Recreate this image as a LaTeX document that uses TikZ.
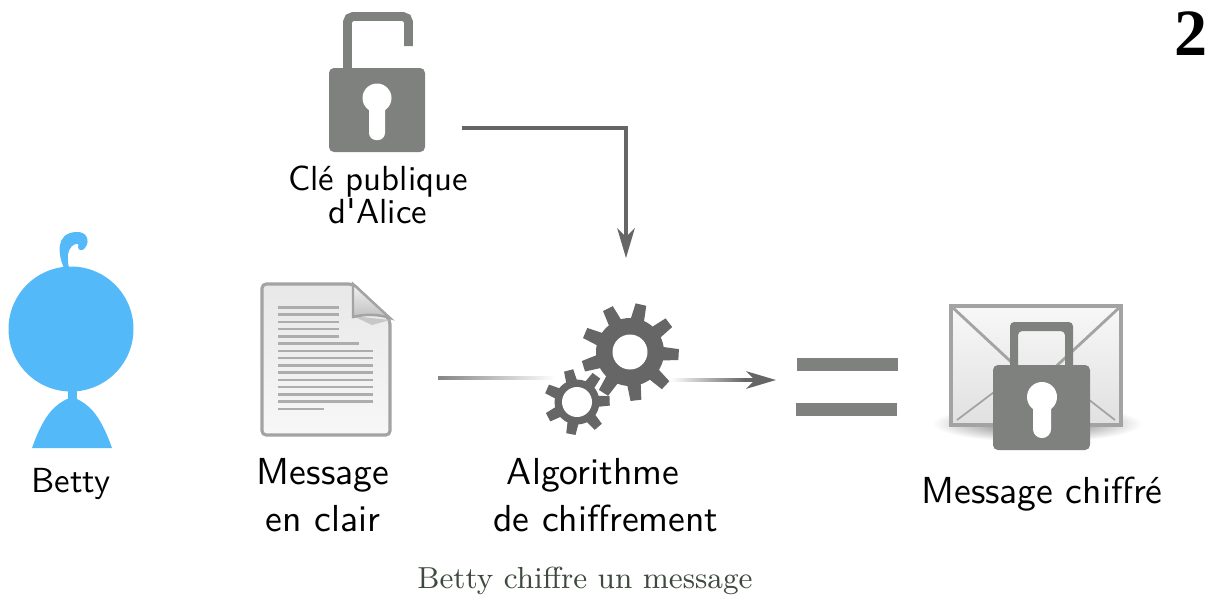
\documentclass[tikz,border=0pt]{standalone}
\usepackage{fontspec}
\usetikzlibrary{arrows.meta}
\newfontfamily\numfont{Liberation Serif}
\definecolor{lockgray}{HTML}{7F817E}
\definecolor{geargray}{HTML}{666666}
\definecolor{bettyblue}{HTML}{54B9F9}
\definecolor{paperedge}{HTML}{A3A3A3}
\definecolor{captiongreen}{HTML}{3F4A3F}

\newcommand{\drawgear}[7]{%
  \fill[geargray] (#1,#2) circle[radius=#5];
  \pgfmathsetmacro{\gearstep}{360/#3}
  \foreach \i in {1,...,#3} {
    \pgfmathsetmacro{\gearang}{#4+\i*\gearstep}
    \fill[geargray]
      ({#1+(#5-2)*cos(\gearang-0.31*\gearstep)},{#2-(#5-2)*sin(\gearang-0.31*\gearstep)}) --
      ({#1+#6*cos(\gearang-0.16*\gearstep)},{#2-#6*sin(\gearang-0.16*\gearstep)}) --
      ({#1+#6*cos(\gearang+0.16*\gearstep)},{#2-#6*sin(\gearang+0.16*\gearstep)}) --
      ({#1+(#5-2)*cos(\gearang+0.31*\gearstep)},{#2-(#5-2)*sin(\gearang+0.31*\gearstep)}) -- cycle;
  }
  \fill[white] (#1,#2) circle[radius=#7];
}

\begin{document}
\begin{tikzpicture}
    [x=0.01cm,y=-0.01cm,
     labeltext/.style={anchor=base,inner sep=0pt,font=\sffamily\fontsize{9.9}{12}\selectfont},
     bigtext/.style={anchor=base,inner sep=0pt,font=\sffamily\fontsize{10.7}{12}\selectfont},
     flecheline/.style={draw=geargray,line width=0.9pt,-{Stealth[length=8.5pt,width=5pt,inset=2.5pt]}}]
    \useasboundingbox (0,0) rectangle (1218,599);

    % Betty
    \fill[bettyblue] (71,329) circle[radius=62.5];
    \fill[bettyblue] (68,385) rectangle (77,402);
    \fill[bettyblue] (32,448) .. controls (42,420) and (52,404) .. (72,397)
      .. controls (92,404) and (102,420) .. (112,448) -- cycle;
    \fill[bettyblue] (64,268) .. controls (58,255) and (55,233) .. (76,232)
      .. controls (86,231) and (91,240) .. (85,248)
      .. controls (83,251) and (78,251) .. (78,247)
      .. controls (80,243) and (76,243) .. (72,246)
      .. controls (67,251) and (67,258) .. (69,268) -- cycle;
    \node[labeltext] (betty) at (71,492) {Betty};

    % message en clair
    \draw[paperedge,line width=0.9pt,rounded corners=1.2pt,top color=black!9,bottom color=black!3]
      (262,284) -- (353,284) -- (390,320) -- (390,435) -- (262,435) -- cycle;
    \fill[black!22] (353,316) -- (390,320) -- (372,325) -- cycle;
    \draw[paperedge,line width=0.7pt,top color=black!5,bottom color=black!25]
      (353,284) -- (390,318) .. controls (378,314) and (365,314) .. (353,317) -- cycle;
    \foreach \i in {0,...,4}
      \fill[black!32] (278,{306+\i*7.25}) rectangle (339,{308.5+\i*7.25});
    \fill[black!32] (278,342.2) rectangle (359,344.7);
    \foreach \i in {6,...,13}
      \fill[black!32] (278,{306+\i*7.25}) rectangle (373,{308.5+\i*7.25});
    \fill[black!32] (278,407.5) rectangle (324,410);
    \node[bigtext] (msg1) at (323,484) {Message};
    \node[bigtext] (msg2) at (323,531) {en clair};

    % cle publique
    \draw[lockgray,line width=2.55pt,rounded corners=1.6pt] (347.5,70) -- (347.5,16.5) -- (408.5,16.5) -- (408.5,46);
    \fill[lockgray,rounded corners=1.4pt] (329,68) rectangle (425,152);
    \fill[white] (377,98) circle[radius=14.5];
    \fill[white,rounded corners=2pt] (369,100) rectangle (385,140);
    \node[labeltext] (cle1) at (378,190) {Clé publique};
    \node[labeltext] (cle2) at (378,223) {d\textquotesingle Alice};

    \coordinate (cleout) at (462,128);
    \coordinate (gearin) at (626,258);
    \draw[flecheline] (cleout) -| (gearin);

    % algorithme
    \shade[left color=geargray!80,right color=white] (438,376) rectangle (556,379.5);
    \drawgear{630}{352}{9}{-43}{34}{49}{17.5}
    \drawgear{577}{402}{7}{-49.4}{22.5}{33}{15}
    \node[bigtext] (algo1) at (593,484) {Algorithme};
    \node[bigtext] (algo2) at (606,531) {de chiffrement};

    \shade[left color=white,right color=geargray] (670,378.5) rectangle (745,381.5);
    \coordinate (gearout) at (745,380);
    \coordinate (egal) at (776,380);
    \draw[flecheline] (gearout) -- (egal);

    % egal
    \fill[lockgray] (797,358) rectangle (898,371);
    \fill[lockgray] (796,403) rectangle (897,416);

    % message chiffre
    \shade[inner color=black!60,outer color=white] (932,405) rectangle (1142,442);
    \draw[paperedge,line width=1.1pt,top color=black!3,bottom color=black!12]
      (951,306) rectangle (1121,425);
    \draw[paperedge,line width=0.8pt] (951,306) -- (1036,385) -- (1121,306);
    \draw[paperedge,line width=0.5pt] (957,420) -- (1010,380);
    \draw[paperedge,line width=0.5pt] (1115,420) -- (1070,385);
    \fill[lockgray,even odd rule,rounded corners=1.2pt]
      (1010,322) rectangle (1073,370) (1018,331) rectangle (1065,370);
    \fill[lockgray,rounded corners=1.4pt] (993,365) rectangle (1090,450);
    \fill[white] (1042,397) circle[radius=15];
    \fill[white,rounded corners=2.5pt] (1033,400) rectangle (1051,438);
    \node[bigtext] (chiffre) at (1042,503) {Message chiffré};

    \node[anchor=base,inner sep=0pt,text=captiongreen,font=\fontsize{8.65}{11}\selectfont] (legende) at (585,588) {Betty chiffre un message};
    \node[anchor=base,inner sep=0pt,font=\numfont\bfseries\fontsize{18.8}{20}\selectfont] (numero) at (1191,55) {2};
  \end{tikzpicture}
\end{document}
